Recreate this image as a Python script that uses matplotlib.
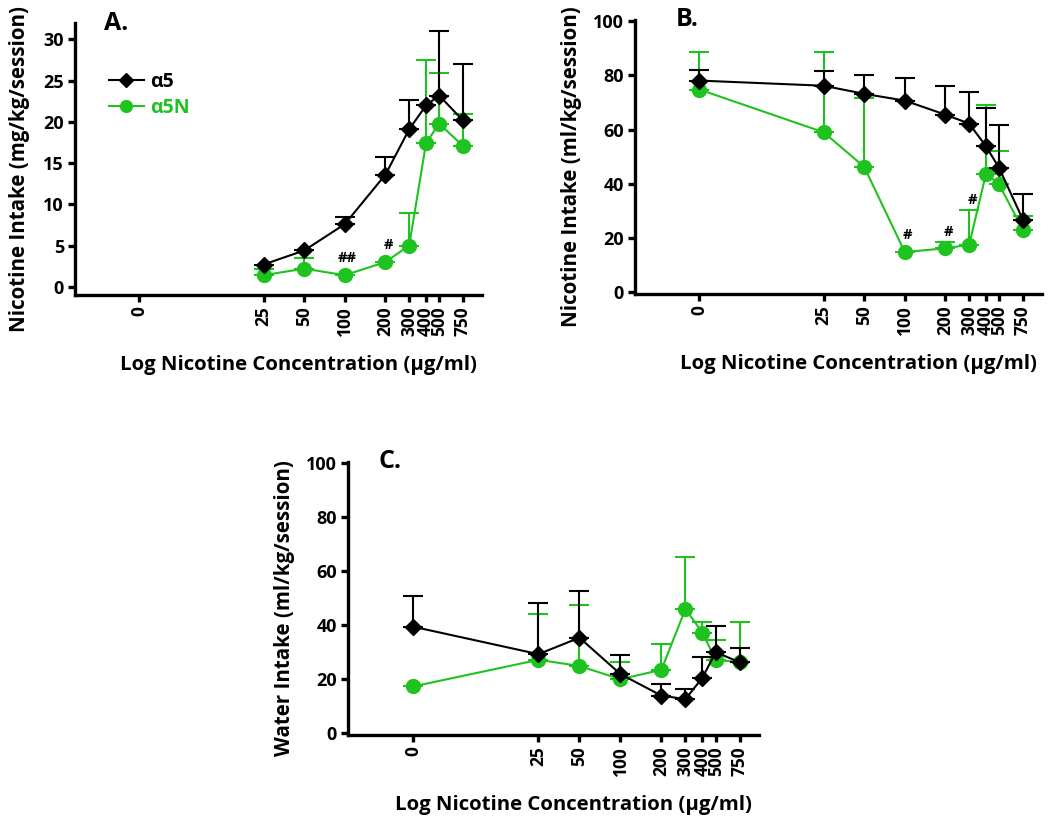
import numpy as np
import matplotlib
matplotlib.use("Agg")
import matplotlib.pyplot as plt

plt.rcParams['font.family'] = ['Open Sans', 'DejaVu Sans']

# ---- data ----
conc_labels = ["0", "25", "50", "100", "200", "300", "400", "500", "750"]
conc_values = [3, 25, 50, 100, 200, 300, 400, 500, 750]   # "0" drawn at 3 on the log axis

nan = np.nan
# Panel A: nicotine intake (mg/kg/session)
a_a5_mean = [nan, 2.7, 4.4, 7.6, 13.6, 19.1, 22.0, 23.2, 20.2]
a_a5_sem = [nan, nan, nan, 0.9, 2.2, 3.5, nan, 7.8, 6.8]
a_a5n_mean = [nan, 1.4, 2.2, 1.4, 3.0, 5.0, 17.4, 19.8, 17.1]
a_a5n_sem = [nan, 0.8, 1.3, nan, nan, 4.0, 10.1, 6.1, 3.9]
a_sig = {"100": "##", "200": "#"}

# Panel B: nicotine intake (ml/kg/session)
b_a5_mean = [78.1, 76.2, 73.2, 70.7, 65.5, 62.2, 53.8, 45.8, 26.7]
b_a5_sem = [4.0, 5.5, 7.0, 8.2, 10.5, 11.6, 14.1, 15.7, 9.4]
b_a5n_mean = [74.8, 59.0, 46.2, 14.7, 16.1, 17.4, 43.7, 39.7, 23.0]
b_a5n_sem = [14.0, 29.8, 25.6, nan, 2.4, 12.8, 25.4, 12.3, 5.2]
b_sig = {"100": "#", "200": "#", "300": "#"}

# Panel C: water intake (ml/kg/session)
c_a5_mean = [39.4, 29.2, 35.3, 21.8, 13.8, 12.5, 20.5, 29.9, 26.2]
c_a5_sem = [11.4, 18.9, 17.2, 7.0, 4.3, 3.9, 7.8, 9.7, 5.2]
c_a5n_mean = [17.2, 27.1, 24.8, 19.9, 23.4, 46.0, 37.1, 27.1, 26.2]
c_a5n_sem = [nan, 17.1, 22.7, 6.5, 9.6, 19.2, 4.1, 7.3, 14.8]

BLACK = "#000000"
GREEN = "#1fc31f"
FW = "bold"

fig = plt.figure(figsize=(10.5, 8.21), dpi=100)

def px_axes(l, t, r, b):
    W, H = 1050, 821
    return fig.add_axes([l / W, 1 - b / H, (r - l) / W, (b - t) / H])

def draw(ax, a5m, a5s, nm, ns, sig, ylim, yticks, ylabel, letter, letter_x, ylab_x):
    x = np.array(conc_values, dtype=float)
    for m, s, c, mk, ms, z, lab in [(nm, ns, GREEN, 'o', 10, 3, "α5N"),
                                    (a5m, a5s, BLACK, 'D', 8, 4, "α5")]:
        m = np.array(m, dtype=float)
        s = np.array(s, dtype=float)
        ok = ~np.isnan(m)
        ax.errorbar(x[ok], m[ok], yerr=[np.zeros(ok.sum()), s[ok]], fmt='none',
                    ecolor=c, elinewidth=1.5, capsize=7, capthick=1.5, zorder=z - 1)
        ax.plot(x[ok], m[ok], color=c, marker=mk, markersize=ms, lw=1.5,
                markeredgecolor=c, zorder=z, label=lab)
    nm_arr = np.array(nm, dtype=float)
    ns_arr = np.array(ns, dtype=float)
    for lab, txt in sig.items():
        i = conc_labels.index(lab)
        top = nm_arr[i] + (0 if np.isnan(ns_arr[i]) else ns_arr[i])
        off = 7 if np.isnan(ns_arr[i]) else 2
        ax.annotate(txt, (x[i], top), xytext=(2, off), textcoords='offset points',
                    ha='center', va='bottom', fontsize=10.5, fontweight=FW)
    ax.set_xscale('log')
    ax.set_xlim(1, 1040)
    ax.set_ylim(*ylim)
    ax.xaxis.set_major_locator(matplotlib.ticker.FixedLocator(conc_values))
    ax.xaxis.set_minor_locator(matplotlib.ticker.NullLocator())
    ax.set_xticklabels(conc_labels, rotation=90, fontsize=12.5, fontweight=FW)
    ax.set_yticks(yticks)
    ax.set_yticklabels([str(v) for v in yticks], fontsize=13, fontweight=FW)
    for sp in ['top', 'right']:
        ax.spines[sp].set_visible(False)
    for sp in ['left', 'bottom']:
        ax.spines[sp].set_linewidth(2.4)
    ax.tick_params(axis='both', width=2.4, length=5, pad=3)
    ax.set_xlabel("Log Nicotine Concentration (μg/ml)", fontsize=14.7, fontweight=FW)
    ax.set_ylabel(ylabel, fontsize=14.8, fontweight=FW)
    ax.xaxis.set_label_coords(0.548, -0.22)
    ax.yaxis.set_label_coords(ylab_x, 0.465)
    ax.text(letter_x, 1.0, letter, transform=ax.transAxes, fontsize=18,
            fontweight='bold', ha='left', va='center')
    return ax

axA = px_axes(75, 23, 482, 295)
draw(axA, a_a5_mean, a_a5_sem, a_a5n_mean, a_a5n_sem, a_sig, (-1, 32),
     [0, 5, 10, 15, 20, 25, 30], "Nicotine Intake (mg/kg/session)", "A.", 0.072, -0.11)
h, l = axA.get_legend_handles_labels()
leg = axA.legend(h[::-1], l[::-1], loc='upper left', bbox_to_anchor=(0.04, 0.885),
                 frameon=False, handlelength=1.8, handletextpad=0.35, labelspacing=0.3,
                 markerscale=0.85, prop={'weight': FW, 'size': 14})
for t, c in zip(leg.get_texts(), [BLACK, GREEN]):
    t.set_color(c)

axB = px_axes(635, 20, 1042, 294)
draw(axB, b_a5_mean, b_a5_sem, b_a5n_mean, b_a5n_sem, b_sig, (-0.8, 100.5),
     [0, 20, 40, 60, 80, 100], "Nicotine Intake (ml/kg/session)", "B.", 0.10, -0.13)

axC = px_axes(348, 462, 759, 735)
draw(axC, c_a5_mean, c_a5_sem, c_a5n_mean, c_a5n_sem, {}, (-0.8, 100.5),
     [0, 20, 40, 60, 80, 100], "Water Intake (ml/kg/session)", "C.", 0.075, -0.129)

fig.savefig("out.png", dpi=100)
